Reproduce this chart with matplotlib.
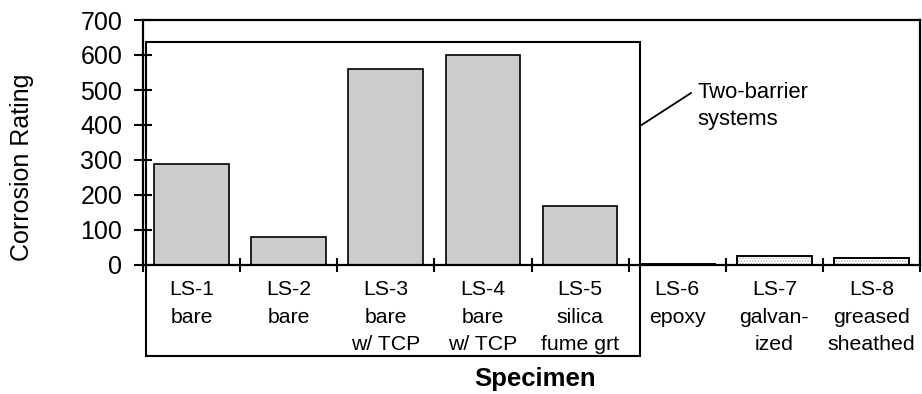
import matplotlib
matplotlib.use("Agg")
import matplotlib.pyplot as plt
from matplotlib.patches import Rectangle
from matplotlib.lines import Line2D

plt.rcParams['font.family'] = ['Liberation Sans', 'DejaVu Sans']
plt.rcParams['hatch.linewidth'] = 0.6

categories = ["LS-1\nbare", "LS-2\nbare", "LS-3\nbare\nw/ TCP", "LS-4\nbare\nw/ TCP",
              "LS-5\nsilica\nfume grt", "LS-6\nepoxy", "LS-7\ngalvan-\nized", "LS-8\ngreased\nsheathed"]
values = [290, 80, 560, 600, 170, 4, 25, 20]
two_barrier = [True, True, True, True, True, False, False, False]
y_ticks = [0, 100, 200, 300, 400, 500, 600, 700]

W, H = 922, 394
fig = plt.figure(figsize=(W / 100, H / 100), dpi=100)
ax = fig.add_axes([143 / W, 1 - 265 / H, (920 - 143) / W, (265 - 20) / H])

x = list(range(len(categories)))
bw = 0.77
for xi, v, tb in zip(x, values, two_barrier):
    if tb:
        ax.bar(xi, v, width=bw, color='#cccccc', edgecolor='black', linewidth=1.2, zorder=2)
    else:
        ax.bar(xi, v, width=bw, color='white', edgecolor='#b0b0b0', hatch='......',
               linewidth=0, zorder=2)
        ax.bar(xi, v, width=bw, fill=False, edgecolor='black', linewidth=1.4, zorder=3)

ax.set_xlim(-0.5, len(categories) - 0.5)
ax.set_ylim(0, 700)
ax.set_yticks(y_ticks)
ax.set_xticks(x)
ax.set_xticklabels(categories, fontsize=15.3, linespacing=1.55)
ax.set_xticks([i - 0.5 for i in range(len(categories) + 1)], minor=True)
ax.tick_params(axis='x', which='major', length=0, pad=11)
ax.tick_params(axis='x', which='minor', direction='inout', length=10, width=1.5)
ax.tick_params(axis='y', direction='inout', length=13, width=1.5, labelsize=18, pad=8.5)
for s in ax.spines.values():
    s.set_linewidth(1.6)

fig.text(22 / W, 1 - 167 / H, "Corrosion Rating", rotation=90, ha='center', va='center',
         fontsize=18)
fig.text(535 / W, 1 - 379 / H, "Specimen", ha='center', va='center', fontsize=18.5,
         fontweight='bold')

# Two-barrier systems box
bx0, bx1, by0, by1 = 146, 640, 356, 41.7
fig.add_artist(Rectangle((bx0 / W, 1 - by0 / H), (bx1 - bx0) / W, (by0 - by1) / H,
                         transform=fig.transFigure, fill=False, edgecolor='black',
                         linewidth=1.5, clip_on=False, zorder=5))
fig.add_artist(Line2D([640 / W, 691 / W], [1 - 126 / H, 1 - 93 / H],
                      transform=fig.transFigure, color='black', linewidth=1.3))
fig.text(697 / W, 1 - 106 / H, "Two-barrier\nsystems", ha='left', va='center',
         fontsize=15.8, linespacing=1.42)

fig.savefig("out.png", dpi=100)
